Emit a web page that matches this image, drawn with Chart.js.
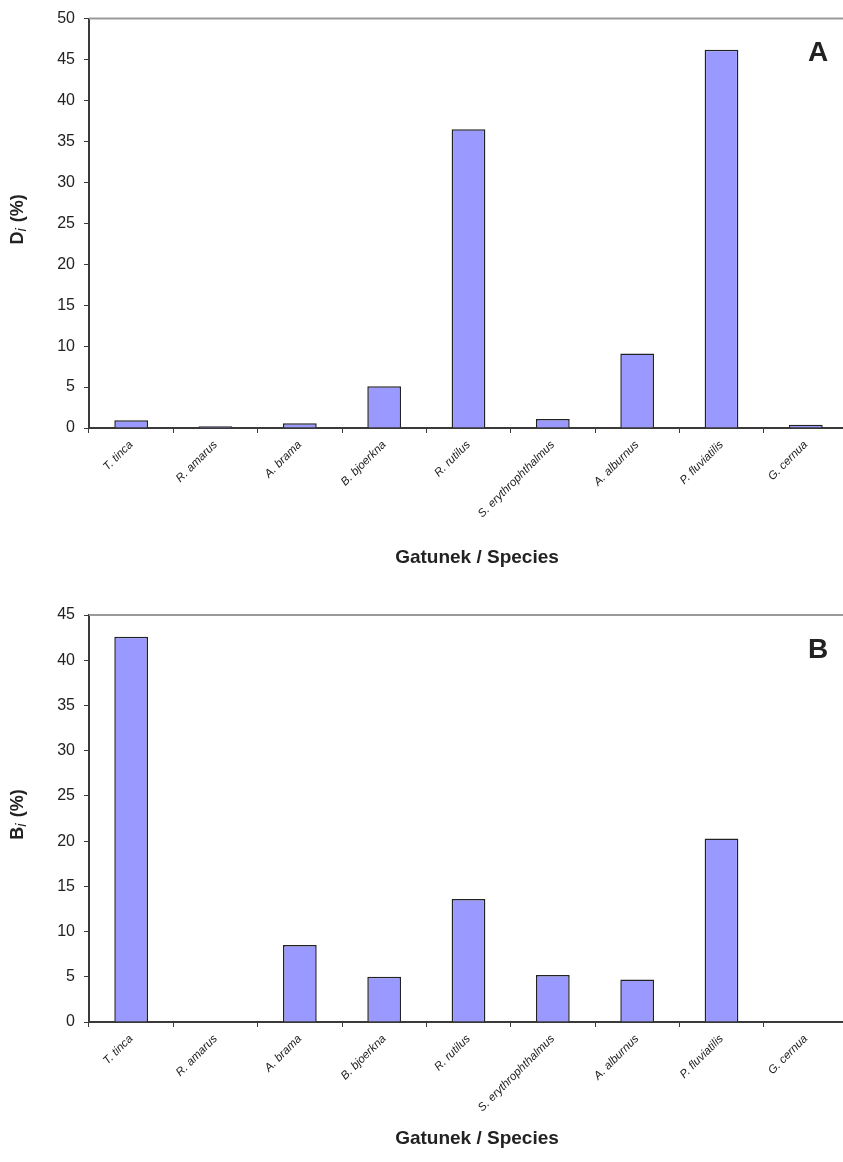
<!DOCTYPE html>
<html>
<head>
<meta charset="utf-8">
<script src="https://cdn.jsdelivr.net/npm/chart.js@4.4.1/dist/chart.umd.min.js"></script>
<style>
  html, body { margin: 0; padding: 0; background: #fff; overflow: hidden; }
  .box { position: relative; width: 850px; height: 581px; }
</style>
</head>
<body>
<div class="box"><canvas id="chartA"></canvas></div>
<div class="box"><canvas id="chartB"></canvas></div>
<script>
const species = ['T. tinca', 'R. amarus', 'A. brama', 'B. bjoerkna', 'R. rutilus',
  'S. erythrophthalmus', 'A. alburnus', 'P. fluviatilis', 'G. cernua'];
// D_i (%) - dominance
const dominance = [0.94, 0.2, 0.57, 5.1, 36.5, 1.1, 9.1, 46.2, 0.4];
// B_i (%) - biomass share
const biomass = [42.6, 0.05, 8.5, 5.0, 13.6, 5.2, 4.7, 20.3, 0.05];

const axisColor = '#3a3a3a';
const fontFam = '"Liberation Sans", Arial, sans-serif';

// draws y title with subscript, x title, panel letter and the grey top line
const decorations = {
  id: 'decorations',
  afterDraw(chart, args, opts) {
    const ctx = chart.ctx;
    const area = chart.chartArea;
    ctx.save();
    // top border
    ctx.strokeStyle = '#9a9a9a';
    ctx.lineWidth = 2;
    ctx.beginPath();
    ctx.moveTo(area.left, area.top);
    ctx.lineTo(chart.width, area.top);
    ctx.stroke();

    ctx.fillStyle = '#222';
    // x title
    ctx.font = 'bold 19px ' + fontFam;
    ctx.textAlign = 'center';
    ctx.textBaseline = 'middle';
    ctx.fillText('Gatunek / Species', 477, opts.xTitleY);

    // panel letter
    ctx.font = 'bold 28px ' + fontFam;
    ctx.fillText(opts.letter, 818, area.top + 35);

    // y title: X_i (%)
    const big = 'bold 18px ' + fontFam;
    const sub = 'italic 15px ' + fontFam;
    ctx.font = big;
    const w1 = ctx.measureText(opts.yLetter).width;
    const w3 = ctx.measureText(' (%)').width;
    ctx.font = sub;
    const w2 = ctx.measureText('i').width + 1;
    const total = w1 + w2 + w3;
    ctx.translate(18, (area.top + area.bottom) / 2 - 4);
    ctx.rotate(-Math.PI / 2);
    ctx.textAlign = 'left';
    let x = -total / 2;
    ctx.font = big;
    ctx.fillText(opts.yLetter, x, 0);
    x += w1;
    ctx.font = sub;
    ctx.fillText('i', x, 4);
    x += w2;
    ctx.font = big;
    ctx.fillText(' (%)', x, 0);
    ctx.restore();
  }
};

function makeChart(id, values, yMax, letter, yLetter, padTop, xHeight, xTitleY) {
  return new Chart(document.getElementById(id), {
    type: 'bar',
    data: {
      labels: species,
      datasets: [{
        data: values,
        backgroundColor: '#9999ff',
        borderColor: '#222',
        borderWidth: 1.5,
        barPercentage: 0.4,
        categoryPercentage: 1.0
      }]
    },
    options: {
      responsive: true,
      maintainAspectRatio: false,
      animation: false,
      layout: { padding: { top: padTop, right: 2, left: 0, bottom: 0 } },
      plugins: {
        legend: { display: false },
        tooltip: { enabled: false },
        decorations: { letter: letter, yLetter: yLetter, xTitleY: xTitleY }
      },
      scales: {
        x: {
          grid: { drawOnChartArea: false, drawTicks: true, tickLength: 5, color: axisColor, offset: true },
          border: { display: true, color: axisColor, width: 2 },
          ticks: {
            minRotation: 45, maxRotation: 45, padding: 5,
            color: '#222',
            font: { family: fontFam, size: 11.5, style: 'italic' }
          },
          afterFit(scale) { scale.height = xHeight; }
        },
        y: {
          min: 0, max: yMax,
          grid: { drawOnChartArea: false, drawTicks: true, tickLength: 5, color: axisColor },
          border: { display: true, color: axisColor, width: 2 },
          ticks: {
            stepSize: 5, padding: 9, color: '#222',
            font: { family: fontFam, size: 16 }
          },
          afterFit(scale) { scale.width = 89; }
        }
      }
    },
    plugins: [decorations]
  });
}

makeChart('chartA', dominance, 50, 'A', 'D', 17, 153, 558);
makeChart('chartB', biomass, 45, 'B', 'B', 34, 140, 558);
</script>
</body>
</html>
